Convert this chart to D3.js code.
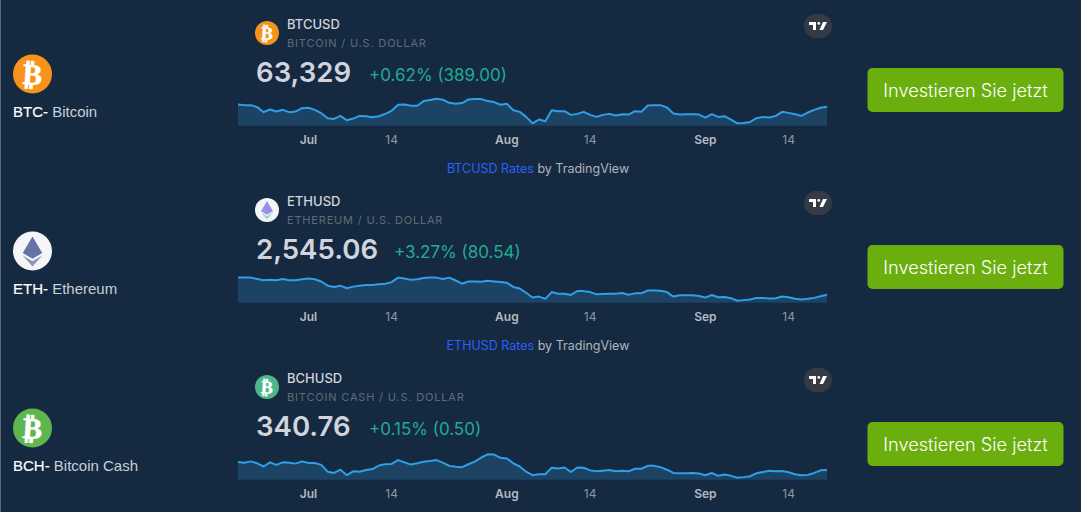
<!DOCTYPE html>
<html>
<head>
<meta charset="utf-8">
<title>Crypto widgets</title>
<script src="https://cdn.jsdelivr.net/npm/d3@7/dist/d3.min.js"></script>
<style>
    html, body { margin: 0; padding: 0; background: #152a40; overflow: hidden; }
    svg { display: block; }
    text { font-family: Inter, "Noto Sans", sans-serif; }
    .name { font-family: "Liberation Sans", Arial, sans-serif; font-size: 15px; fill: #e4e8ec; }
</style>
</head>
<body>
<div id="chart"></div>
<script>
const width = 1081;
const height = 512;

// Daily closes, 20 Jun to 20 Sep
const btcValues = [64670, 64290, 64290, 63140, 60260, 61790, 60640, 61600, 60260, 60640, 62560, 62750, 61600, 59680, 56800, 56420, 58150, 55650, 56610, 58150, 57950, 57380, 57950, 59300, 61030, 64480, 64670, 63910, 63910, 66590, 67170, 67940, 67360, 65630, 65060, 65440, 67550, 67740, 67740, 66590, 66020, 64480, 65060, 61410, 60450, 57570, 53920,
    56030, 55070, 61410, 60830, 60830, 58720, 59300, 60450, 58720, 57570, 58720, 59300, 58340, 59110, 58910, 60830, 60450, 64100, 64290, 64290, 62950, 59490, 58910, 59110, 59110, 58910, 57190, 59110, 57570, 57950, 56030, 53920, 54110, 54690, 56800, 57570, 57190, 58150, 60450, 59870, 59110, 58150, 60060, 61600, 62750, 63330];
const ethValues = [3499, 3499, 3499, 3427, 3355, 3373, 3355, 3427, 3355, 3355, 3409, 3445, 3409, 3283, 3049, 2977, 3049, 2905, 2995, 3049, 3085, 3085, 3121, 3157, 3247, 3499, 3445, 3373, 3409, 3481, 3499, 3499, 3427, 3499, 3337, 3157, 3283, 3283, 3265, 3319, 3283, 3247, 3211, 2977, 2887, 2653, 2383,
    2437, 2311, 2689, 2599, 2599, 2527, 2743, 2743, 2689, 2563, 2581, 2599, 2599, 2635, 2545, 2617, 2617, 2779, 2779, 2761, 2689, 2437, 2509, 2509, 2509, 2473, 2383, 2527, 2401, 2419, 2347, 2203, 2239, 2275, 2365, 2365, 2329, 2347, 2437, 2401, 2311, 2275, 2311, 2365, 2455, 2545];
const bchValues = [391, 387, 395, 383, 363, 389, 373, 389, 387, 381, 395, 385, 385, 373, 331, 323, 343, 309, 333, 331, 341, 347, 369, 377, 379, 403, 389, 375, 383, 393, 397, 403, 387, 367, 361, 359, 377, 393, 419, 439, 437, 417, 413, 383, 363, 331, 309,
    315, 315, 355, 351, 357, 329, 357, 355, 339, 333, 337, 341, 333, 337, 333, 349, 349, 367, 367, 359, 343, 323, 321, 321, 323, 319, 309, 323, 305, 313, 305, 293, 297, 303, 321, 329, 337, 333, 335, 327, 315, 309, 311, 323, 339, 341];

const tickDates = [new Date(Date.UTC(2024, 6, 1)), new Date(Date.UTC(2024, 6, 14)), new Date(Date.UTC(2024, 7, 1)), new Date(Date.UTC(2024, 7, 14)), new Date(Date.UTC(2024, 8, 1)), new Date(Date.UTC(2024, 8, 14))];
const tickLabels = ["Jul", "14", "Aug", "14", "Sep", "14"];
const startDate = new Date(Date.UTC(2024, 5, 20));

const rows = [
    {symbol: "BTC", name: "Bitcoin", pair: "BTCUSD", sub: "BITCOIN / U.S. DOLLAR", price: "63,329", change: "+0.62% (389.00)", changeX: 369, values: btcValues, domain: [52540, 72929], kind: "btc", bigColor: "#f7931a", smallColor: "#f7931a"},
    {symbol: "ETH", name: "Ethereum", pair: "ETHUSD", sub: "ETHEREUM / U.S. DOLLAR", price: "2,545.06", change: "+3.27% (80.54)", changeX: 394, values: ethValues, domain: [2095, 4093], kind: "eth", bigColor: "#f4f5f7", smallColor: "#f4f5f7"},
    {symbol: "BCH", name: "Bitcoin Cash", pair: "BCHUSD", sub: "BITCOIN CASH / U.S. DOLLAR", price: "340.76", change: "+0.15% (0.50)", changeX: 369, values: bchValues, domain: [281, 503], kind: "bch", bigColor: "#5fb550", smallColor: "#4db68a"}
];

const rowStep = 177;

const svg = d3.select("#chart")
    .append("svg")
    .attr("width", width)
    .attr("height", height);

// thin page edge on the left
svg.append("rect").attr("x", 0).attr("y", 0).attr("width", 1).attr("height", height).attr("fill", "#5b6875");

const x = d3.scaleUtc()
    .domain([startDate, d3.utcDay.offset(startDate, 92)])
    .range([238, 827]);

function drawIcon(g, kind, color, cx, cy, r) {
    const icon = g.append("g").attr("transform", `translate(${cx},${cy})`);
    icon.append("circle").attr("r", r).attr("fill", color);
    if (kind === "eth") {
        const s = r / 20;
        const big = r > 15;
        icon.append("path")
            .attr("d", `M0,${-15 * s}L${-10 * s},${2 * s}L0,${8 * s}L${10 * s},${2 * s}Z`)
            .attr("fill", big ? "#6472a6" : "#9b8fe8");
        icon.append("path")
            .attr("d", `M${-10 * s},${4.5 * s}L0,${16 * s}L${10 * s},${4.5 * s}L0,${10.5 * s}Z`)
            .attr("fill", big ? "#8a94bd" : "#8fd3e0");
    } else {
        // the sans bold glyph is already slanted, so only a small turn is needed
        icon.append("text")
            .attr("transform", "rotate(4)")
            .attr("text-anchor", "middle")
            .attr("dy", "0.36em")
            .attr("font-size", r * 1.5)
            .attr("font-weight", 700)
            .style("font-family", "'DejaVu Sans'")
            .attr("fill", "#fff")
            .attr("stroke", "#fff")
            .attr("stroke-width", r * 0.03)
            .text("\u20bf");
    }
}

rows.forEach((row, i) => {
    const dy = i * rowStep;
    const g = svg.append("g").attr("transform", `translate(0,${dy})`);
    const baseY = 125.7;

    const y = d3.scaleLinear().domain(row.domain).range([baseY, 90]);
    const points = row.values.map((v, k) => ({date: d3.utcDay.offset(startDate, k), value: v}));

    // left column
    drawIcon(g, row.kind, row.bigColor, 32.5, 74, 19.5);
    const label = g.append("text").attr("class", "name").attr("x", 13).attr("y", 117);
    label.append("tspan").attr("fill", "#fff").attr("stroke", "#fff").attr("stroke-width", 0.15).text(row.symbol + "-");
    label.append("tspan").attr("fill", "#c9cfd6").text(" " + row.name);

    // widget header
    drawIcon(g, row.kind, row.smallColor, 267, 33, 12);
    g.append("text").attr("x", 287).attr("y", 29)
        .attr("font-size", 13).attr("font-weight", 500).attr("fill", "#d1d4dc").text(row.pair);
    g.append("text").attr("x", 287).attr("y", 47)
        .attr("font-size", 11).attr("letter-spacing", 0.82).attr("fill", "#5f6a78").text(row.sub);
    g.append("text").attr("x", 256).attr("y", 82)
        .attr("font-size", 27.6).attr("font-weight", 600).attr("fill", "#d1d4dc").text(row.price);
    g.append("text").attr("x", row.changeX).attr("y", 81)
        .attr("font-size", 17).attr("fill", "#22ab94").text(row.change);

    // tradingview badge
    const badge = g.append("g").attr("transform", "translate(818,26)");
    badge.append("rect").attr("x", -14).attr("y", -12).attr("width", 28).attr("height", 24).attr("rx", 12).attr("fill", "#363a45");
    badge.append("path").attr("d", "M-9,-4H-2V4H-5V-1H-9ZM5,-4H9L5,4H1.5Z").attr("fill", "#fff");
    badge.append("circle").attr("cx", 0.8).attr("cy", -2.6).attr("r", 1.4).attr("fill", "#fff");

    // price area and line
    const area = d3.area().x(d => x(d.date)).y0(baseY).y1(d => y(d.value));
    const line = d3.line().x(d => x(d.date)).y(d => y(d.value));
    g.append("path").datum(points).attr("d", area).attr("fill", "#1c4264");
    g.append("path").datum(points).attr("d", line)
        .attr("fill", "none").attr("stroke", "#2f9fe8").attr("stroke-width", 2).attr("stroke-linejoin", "round");

    // time axis
    const axis = g.append("g")
        .attr("transform", "translate(-0.5,135)")
        .call(d3.axisBottom(x).tickValues(tickDates).tickSize(0).tickPadding(0).tickFormat((d, k) => tickLabels[k]));
    axis.select(".domain").remove();
    axis.selectAll("text")
        .attr("dy", "0.72em")
        .attr("font-size", 12)
        .style("font-family", "Inter")
        .attr("font-weight", (d, k) => k % 2 === 0 ? 600 : 400)
        .attr("fill", (d, k) => k % 2 === 0 ? "#b5b9c2" : "#8f96a1");

    // attribution line, the last one falls below the picture
    if (i < rows.length - 1) {
        const credit = g.append("text").attr("x", 538).attr("y", 172.5)
            .attr("text-anchor", "middle").attr("font-size", 12.5);
        credit.append("tspan").attr("fill", "#2962ff").text(row.pair + " Rates");
        credit.append("tspan").attr("fill", "#b2b5be").text(" by TradingView");
    }

    // button
    g.append("rect").attr("x", 867.5).attr("y", 68).attr("width", 196).attr("height", 44).attr("rx", 5).attr("fill", "#6aaf0e");
    g.append("text").attr("x", 965.5).attr("y", 97)
        .attr("text-anchor", "middle").attr("font-size", 18.2).attr("font-weight", 300).attr("fill", "#fff").text("Investieren Sie jetzt");
});
</script>
</body>
</html>
